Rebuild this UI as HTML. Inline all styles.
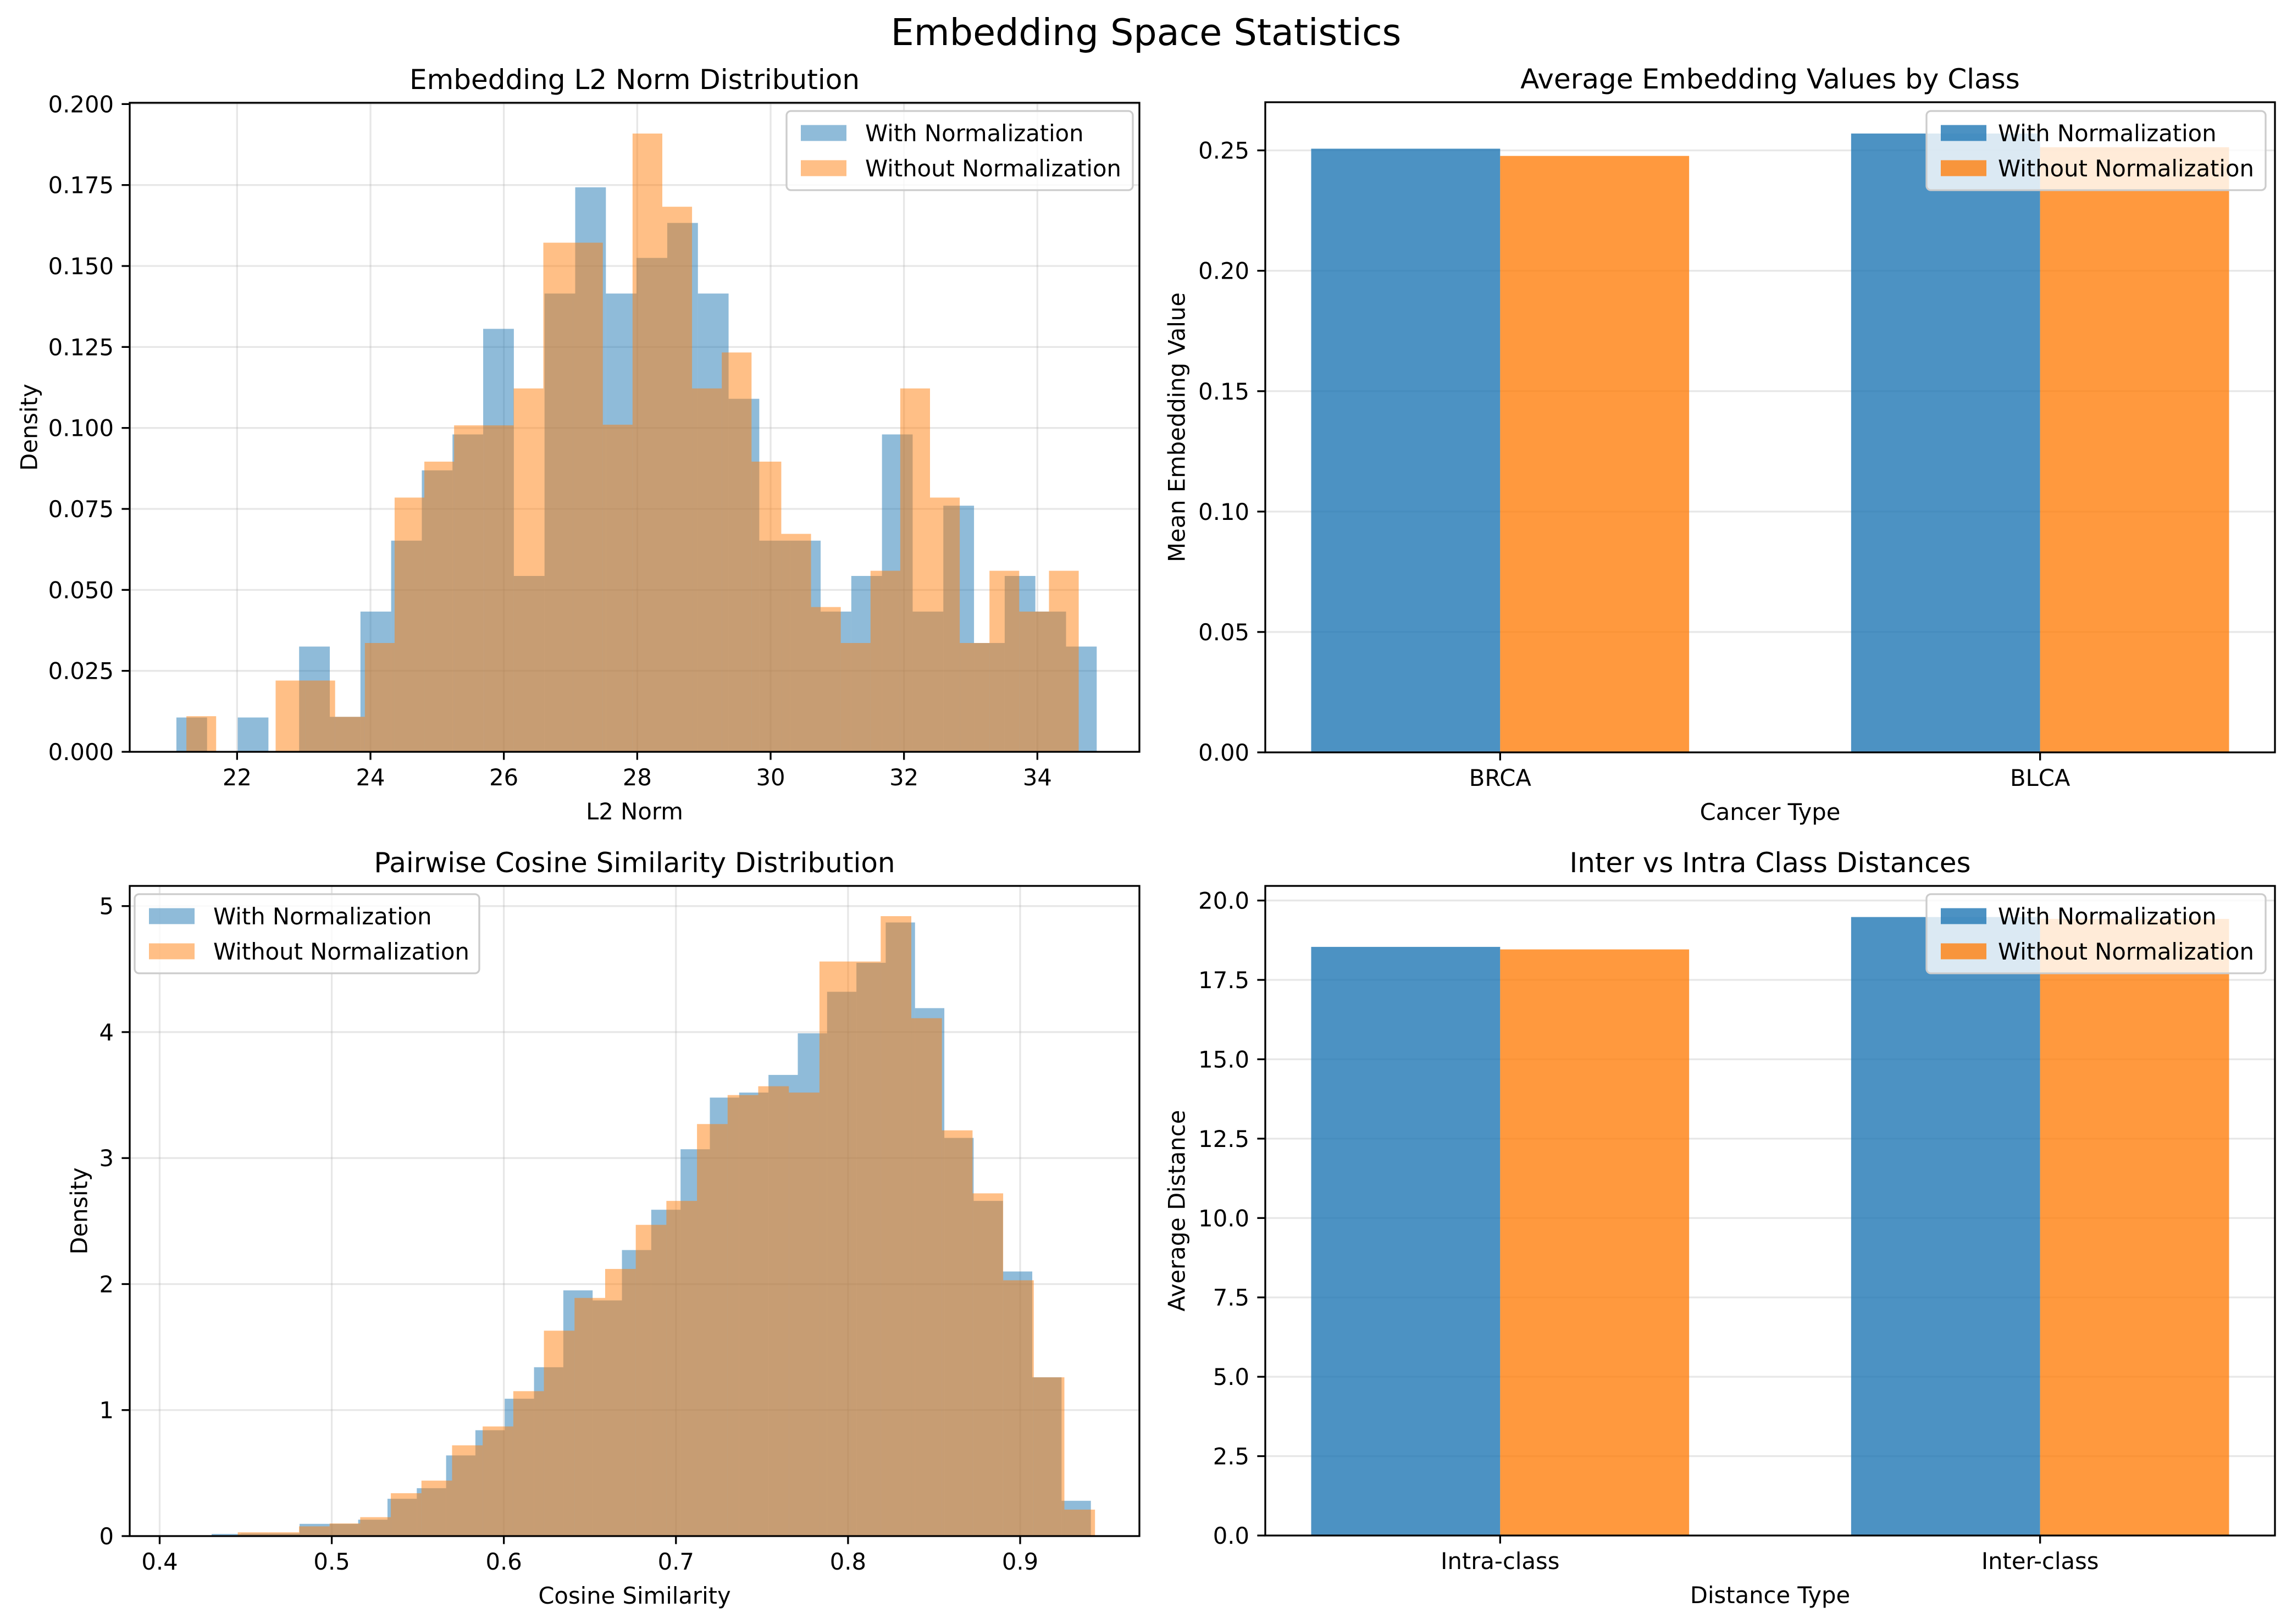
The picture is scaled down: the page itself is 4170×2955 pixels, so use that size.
<!DOCTYPE html>
<html><head><meta charset="utf-8">
<style>
html,body{margin:0;padding:0;background:#fff;}
svg{display:block;font-family:"DejaVu Sans","Liberation Sans",sans-serif;}
</style></head>
<body>
<svg id="fig" xmlns="http://www.w3.org/2000/svg" width="4170" height="2955" viewBox="0 0 4170 2955">
<rect x="0" y="0" width="4170" height="2955" fill="#fff"/>
<text x="2085" y="82" font-size="66.7" text-anchor="middle">Embedding Space Statistics</text>
</svg>
<script>
// ---- Data: L2 norm histogram ----
const l2BinStartWith = 21.09;
const l2BinWidthWith = 0.46;
const l2DensityWith = [0.0106,0,0.0106,0,0.0325,0.0108,0.0433,0.0652,0.0869,0.098,0.1306,0.0543,0.1415,0.1743,0.1415,0.1525,0.1633,0.1415,0.109,0.0652,0.0652,0.0433,0.0543,0.098,0.0433,0.076,0.0336,0.0543,0.0433,0.0325];
const l2BinStartWithout = 21.24;
const l2BinWidthWithout = 0.446;
const l2DensityWithout = [0.011,0,0,0.022,0.022,0.0108,0.0336,0.0785,0.0896,0.1008,0.1008,0.1122,0.1572,0.1572,0.101,0.1909,0.1683,0.1122,0.1233,0.0896,0.0673,0.0447,0.0336,0.0559,0.1122,0.0785,0.0336,0.0559,0.0433,0.0559];
const l2XTicks = [22,24,26,28,30,32,34];
const l2YTicks = ["0.000","0.025","0.050","0.075","0.100","0.125","0.150","0.175","0.200"];

// ---- Data: cosine similarity histogram ----
const cosBinStartWith = 0.4302;
const cosBinWidthWith = 0.01703;
const cosDensityWith = [0.017,0.02,0.02,0.097,0.097,0.13,0.296,0.38,0.64,0.84,1.09,1.34,1.95,1.87,2.27,2.59,3.07,3.48,3.52,3.66,3.99,4.32,4.55,4.87,4.19,3.16,2.66,2.10,1.26,0.28];
const cosBinStartWithout = 0.4098;
const cosBinWidthWithout = 0.01779;
const cosDensityWithout = [0.004,0.004,0.03,0.03,0.077,0.1,0.15,0.34,0.44,0.72,0.87,1.15,1.63,1.89,2.12,2.47,2.66,3.27,3.50,3.57,3.52,4.56,4.56,4.92,4.11,3.22,2.72,2.03,1.26,0.21];
const cosXTicks = ["0.4","0.5","0.6","0.7","0.8","0.9"];
const cosYTicks = [0,1,2,3,4,5];

// ---- Data: average embedding values ----
const classCategories = ["BRCA","BLCA"];
const classMeanWith = [0.2507,0.2570];
const classMeanWithout = [0.2477,0.2513];
const classYTicks = ["0.00","0.05","0.10","0.15","0.20","0.25"];

// ---- Data: distances ----
const distCategories = ["Intra-class","Inter-class"];
const distWith = [18.54,19.48];
const distWithout = [18.46,19.42];
const distYTicks = ["0.0","2.5","5.0","7.5","10.0","12.5","15.0","17.5","20.0"];

const barWidth = 0.35;
const svg = document.getElementById('fig');
const NS = 'http://www.w3.org/2000/svg';
const BLUE = '#1f77b4', ORANGE = '#ff7f0e';
function el(tag, attrs, parent){
  const e = document.createElementNS(NS, tag);
  for (const k in attrs) e.setAttribute(k, attrs[k]);
  (parent||svg).appendChild(e);
  return e;
}
function makeAxes(p){
  const g = el('g', {});
  
  
  p.g = g;
  p.sx = v => p.x0 + (v - p.xmin) / (p.xmax - p.xmin) * (p.x1 - p.x0);
  p.sy = v => p.y1 - (v - p.ymin) / (p.ymax - p.ymin) * (p.y1 - p.y0);
  return p;
}
function gridAndTicks(p, xt, yt, xGrid){
  if (xGrid) xt.forEach(v => {
    const gl = el('line', {x1:p.sx(+v), x2:p.sx(+v), y1:p.y0, y2:p.y1, stroke:'#b0b0b0', 'stroke-opacity':0.3, 'stroke-width':3.3}, p.g);
    
    
  });
  yt.forEach(v => {
    const gl = el('line', {x1:p.x0, x2:p.x1, y1:p.sy(+v), y2:p.sy(+v), stroke:'#b0b0b0', 'stroke-opacity':0.3, 'stroke-width':3.3}, p.g);
    
    
  });
}
function axesFrame(p, xt, yt, xLabels){
  const fr = el('rect', {x:p.x0, y:p.y0, width:p.x1-p.x0, height:p.y1-p.y0, fill:'none', stroke:'#000', 'stroke-width':3.3}, p.g);
  
  
  xt.forEach((v,i) => {
    const x = p.sx(+v);
    el('line', {x1:x, x2:x, y1:p.y1, y2:p.y1+14.6, stroke:'#000', 'stroke-width':3.3}, p.g);
    const t = el('text', {x:x, y:p.y1+61, 'font-size':41.7, 'text-anchor':'middle'}, p.g);
    
    
    t.textContent = xLabels ? xLabels[i] : String(v);
  });
  yt.forEach(v => {
    const y = p.sy(+v);
    el('line', {x1:p.x0-14.6, x2:p.x0, y1:y, y2:y, stroke:'#000', 'stroke-width':3.3}, p.g);
    const t = el('text', {x:p.x0-29, y:y+15, 'font-size':41.7, 'text-anchor':'end'}, p.g);
    
    
    t.textContent = String(v);
  });
  const tt = el('text', {x:(p.x0+p.x1)/2, y:p.y0-25, 'font-size':50, 'text-anchor':'middle'}, p.g);
  
  
  tt.textContent = p.title;
  const xl = el('text', {x:(p.x0+p.x1)/2, y:p.y1+123, 'font-size':41.7, 'text-anchor':'middle'}, p.g);
  
  
  xl.textContent = p.xlabel;
  const yl = el('text', {x:p.ylx, y:(p.y0+p.y1)/2, 'font-size':41.7, 'text-anchor':'middle', 'dominant-baseline':'central', transform:`rotate(-90 ${p.ylx} ${(p.y0+p.y1)/2})`}, p.g);
  
  
  yl.textContent = p.ylabel;
}
function hist(p, start, width, dens, color, name){
  dens.forEach((d,i) => {
    if (d <= 0) return;
    const a = start + i*width, b = a + width;
    const r = el('rect', {x:p.sx(a), y:p.sy(d), width:p.sx(b)-p.sx(a), height:p.sy(0)-p.sy(d), fill:color, 'fill-opacity':0.5}, p.g);
    
    
  });
}
function bars(p, vals, offset, color, name){
  vals.forEach((v,i) => {
    const a = i + offset - barWidth/2, b = a + barWidth;
    const r = el('rect', {x:p.sx(a), y:p.sy(v), width:p.sx(b)-p.sx(a), height:p.sy(0)-p.sy(v), fill:color, 'fill-opacity':0.8}, p.g);
    
    
  });
}
function legend(p, x, y, w, alpha, tx){
  const g = el('g', {}, p.g);
  
  
  el('rect', {x:x, y:y, width:w, height:144, rx:8, fill:'#fff', 'fill-opacity':0.8, stroke:'#cccccc', 'stroke-width':3.3}, g);
  const items = [['With Normalization', BLUE], ['Without Normalization', ORANGE]];
  items.forEach((it, k) => {
    const cy = y + 40 + k*64;
    const e = el('g', {}, g);
    
    
    el('rect', {x:x+26, y:cy-14.5, width:83, height:29, fill:it[1], 'fill-opacity':alpha}, e);
    const t = el('text', {x:x+tx, y:cy+15, 'font-size':41.7}, e);
    t.textContent = it[0];
  });
}

// Top-left
const tl = makeAxes({name:'l2-norm-histogram', x0:236, x1:2073, y0:187, y1:1368, xmin:20.39, xmax:35.53, ymin:0, ymax:0.2004,
  title:'Embedding L2 Norm Distribution', xlabel:'L2 Norm', ylabel:'Density', ylx:53});
gridAndTicks(tl, l2XTicks, l2YTicks, true);
hist(tl, l2BinStartWith, l2BinWidthWith, l2DensityWith, BLUE, 'l2-bar-with-norm');
hist(tl, l2BinStartWithout, l2BinWidthWithout, l2DensityWithout, ORANGE, 'l2-bar-without-norm');
axesFrame(tl, l2XTicks, l2YTicks);
legend(tl, 1431, 202, 630, 0.5, 143);

// Bottom-left
const bl = makeAxes({name:'cosine-similarity-histogram', x0:236, x1:2073, y0:1612, y1:2795, xmin:0.3826, xmax:0.9693, ymin:0, ymax:5.16,
  title:'Pairwise Cosine Similarity Distribution', xlabel:'Cosine Similarity', ylabel:'Density', ylx:144});
gridAndTicks(bl, cosXTicks, cosYTicks, true);
hist(bl, cosBinStartWith, cosBinWidthWith, cosDensityWith, BLUE, 'cos-bar-with-norm');
hist(bl, cosBinStartWithout, cosBinWidthWithout, cosDensityWithout, ORANGE, 'cos-bar-without-norm');
axesFrame(bl, cosXTicks, cosYTicks);
legend(bl, 245, 1627, 627, 0.5, 143);

// Top-right
const tr = makeAxes({name:'average-embedding-chart', x0:2302, x1:4139, y0:186, y1:1369, xmin:-0.435, xmax:1.435, ymin:0, ymax:0.270,
  title:'Average Embedding Values by Class', xlabel:'Cancer Type', ylabel:'Mean Embedding Value', ylx:2141});
gridAndTicks(tr, [], classYTicks, false);
bars(tr, classMeanWith, -barWidth/2, BLUE, 'bar-with-norm');
bars(tr, classMeanWithout, barWidth/2, ORANGE, 'bar-without-norm');
axesFrame(tr, [0,1], classYTicks, classCategories);
legend(tr, 3505, 202, 617, 0.8, 130);

// Bottom-right
const br = makeAxes({name:'class-distance-chart', x0:2302, x1:4139, y0:1612, y1:2794, xmin:-0.435, xmax:1.435, ymin:0, ymax:20.46,
  title:'Inter vs Intra Class Distances', xlabel:'Distance Type', ylabel:'Average Distance', ylx:2141});
gridAndTicks(br, [], distYTicks, false);
bars(br, distWith, -barWidth/2, BLUE, 'bar-with-norm');
bars(br, distWithout, barWidth/2, ORANGE, 'bar-without-norm');
axesFrame(br, [0,1], distYTicks, distCategories);
legend(br, 3505, 1627, 617, 0.8, 130);
</script>
</body></html>
